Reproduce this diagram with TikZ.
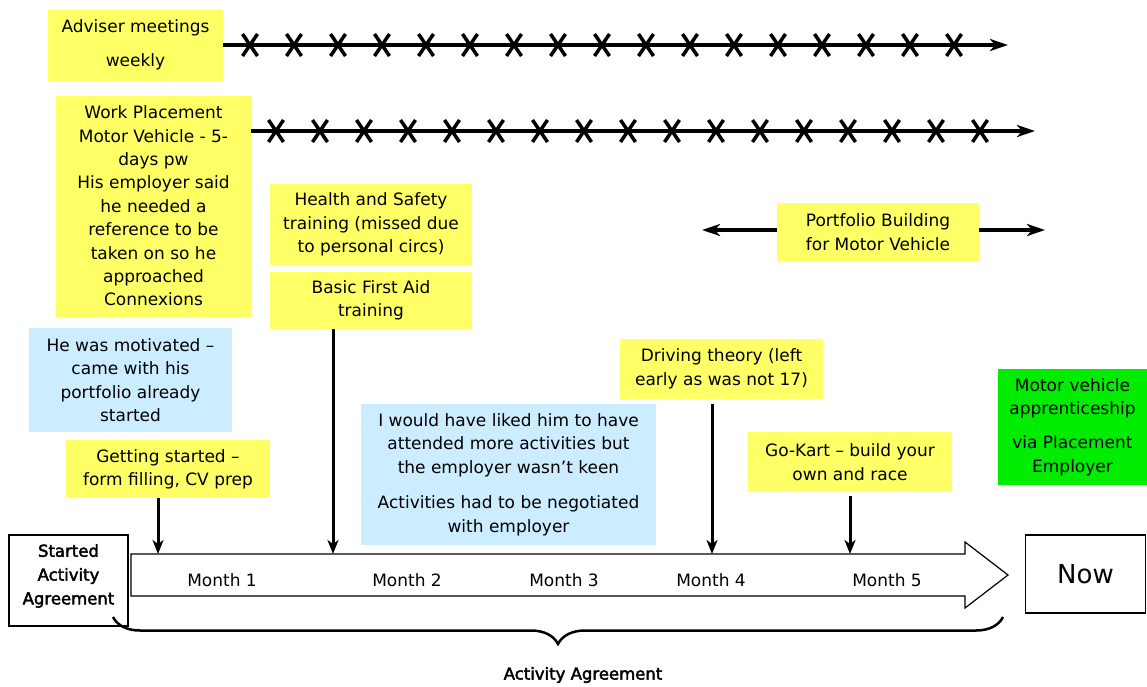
\documentclass[tikz,border=0pt]{standalone}
\usepackage{fontspec}
\setmainfont{DejaVu Sans}
\newfontfamily\heavyfont[FakeBold=2.5]{DejaVu Sans}
\usetikzlibrary{arrows.meta,decorations.pathreplacing,positioning}
\definecolor{noteyellow}{RGB}{255,255,102}
\definecolor{noteblue}{RGB}{204,236,255}
\definecolor{notegreen}{RGB}{0,236,0}

\begin{document}
\begin{tikzpicture}[x=1pt,y=-1pt,
    every node/.style={font=\fontsize{17}{23.4}\selectfont,align=center,inner sep=0pt},
    note/.style={fill=noteyellow},
    remark/.style={fill=noteblue},
    goal/.style={fill=notegreen},
    plainbox/.style={draw,line width=1.2pt,fill=white},
    track/.style={line width=3.5pt,-{Stealth[length=18pt,width=12pt,inset=5pt]}},
    drop/.style={line width=3pt,-{Stealth[length=14pt,width=11pt,inset=4pt]}},
    xmark/.style={line width=3.5pt}]
      \useasboundingbox (0,0) rectangle (1147,686);

      % notes above the timeline
      \node[note,minimum width=175,minimum height=71] (advise) at (135.5,45) {Adviser meetings\\[11pt]weekly};
      \node[note,minimum width=195,minimum height=221] (place) at (153.5,206) {Work Placement\\Motor Vehicle - 5-\\days pw\\His employer said\\he needed a\\reference to be\\taken on so he\\approached\\Connexions};
      \node[note,minimum width=202,minimum height=81] (health) at (371,224.5) {Health and Safety\\training (missed due\\to personal circs)};
      \node[note,minimum width=202,minimum height=57] (aid) at (371,300.5) {Basic First Aid\\training};
      \node[note,minimum width=202,minimum height=58] (folio) at (878,232) {Portfolio Building\\for Motor Vehicle};
      \node[remark,minimum width=203,minimum height=104] (motiv) at (130.5,380) {He was motivated –\\came with his\\portfolio already\\started};
      \node[note,minimum width=204,minimum height=58] (begin) at (168,469) {Getting started –\\form filling, CV prep};
      \node[remark,minimum width=295,minimum height=141] (liked) at (508.5,474.5) {I would have liked him to have\\attended more activities but\\the employer wasn’t keen\\[12pt]Activities had to be negotiated\\with employer};
      \node[note,minimum width=203,minimum height=60] (drive) at (721.5,369) {Driving theory (left\\early as was not 17)};
      \node[note,minimum width=204,minimum height=60] (kart) at (850,462) {Go-Kart – build your\\own and race};
      \node[goal,minimum width=149,minimum height=116] (appr) at (1072.5,427) {Motor vehicle\\apprenticeship\\[11pt]via Placement\\Employer};

      % timeline
      \node[plainbox,minimum width=119,minimum height=91] (agree) at (68.5,580.5) {};
      \node[font=\heavyfont\fontsize{16.5}{23.8}\selectfont] (agreetext) at (68.5,576) {Started\\Activity\\Agreement};
      \node[plainbox,minimum width=120,minimum height=78,font=\fontsize{26}{30}\selectfont] (now) at (1085.5,574) {Now};
      \draw[line width=1.2pt,fill=white] (131,554) -- (965,554) -- (965,542) -- (1008,575)
        -- (965,608) -- (965,596) -- (131,596) -- cycle;
      \foreach \x/\m in {222/1,407/2,564/3,711/4,887/5}
        \node (m\m) at (\x,580) {Month \m};

      \coordinate (t1) at (158,554);
      \coordinate (t2) at (333,554);
      \coordinate (t4) at (712,554);
      \coordinate (t5) at (850,554);
      \draw[drop] (t1 |- begin.south) -- (t1);
      \draw[drop] (t2 |- aid.south) -- (t2);
      \draw[drop,shorten <=5pt] (t4 |- drive.south) -- (t4);
      \draw[drop,shorten <=4pt] (t5 |- kart.south) -- (t5);

      % weekly and daily lines
      \coordinate (aEnd) at (1008,45);
      \coordinate (pEnd) at (1035,131);
      \draw[track] (advise.east) -- (aEnd);
      \draw[track] (pEnd -| place.east) -- (pEnd);
      \foreach \i [evaluate=\i as \x using 250+44*\i] in {0,...,16}
        \draw[xmark] (\x-7.5,34) -- (\x+7.5,56) (\x-7.5,56) -- (\x+7.5,34);
      \foreach \i [evaluate=\i as \x using 276+44*\i] in {0,...,16}
        \draw[xmark] (\x-7.5,120) -- (\x+7.5,142) (\x-7.5,142) -- (\x+7.5,120);

      \coordinate (fL) at (702,230);
      \coordinate (fR) at (1045,230);
      \draw[track] (fL -| folio.west) -- (fL);
      \draw[track] (fR -| folio.east) -- (fR);

      % brace under the timeline
      \coordinate (bL) at (113,617);
      \coordinate (bR) at (1003,617);
      \draw[line width=2.5pt,decorate,decoration={brace,mirror,amplitude=27pt}] (bL) -- (bR);
      \node[font=\heavyfont\fontsize{16.5}{20}\selectfont] (aa) at (583,675) {Activity Agreement};

    \end{tikzpicture}
\end{document}
